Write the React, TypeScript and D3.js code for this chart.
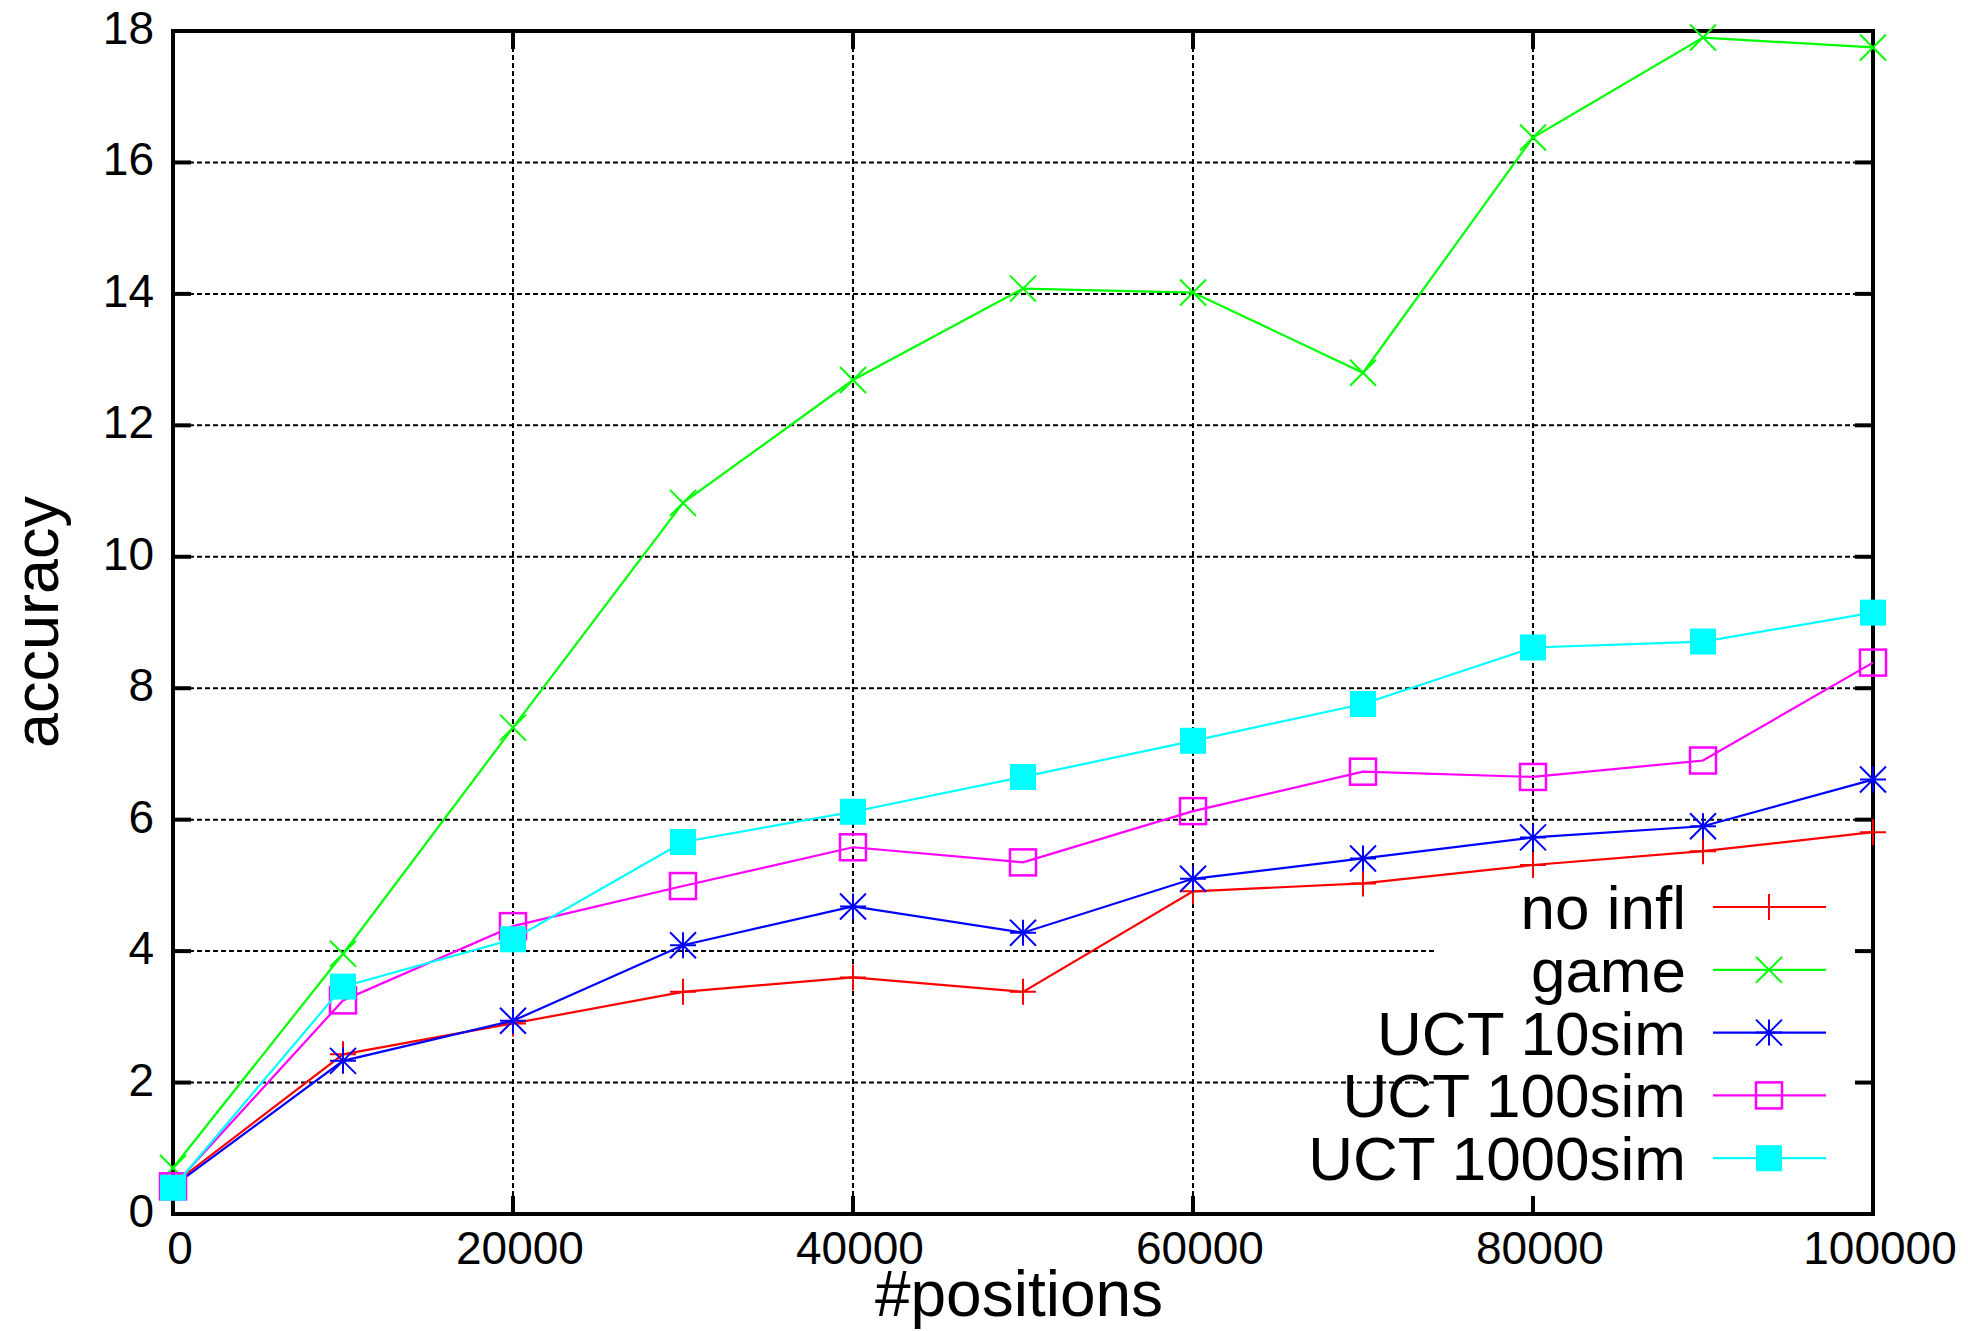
import * as d3 from "d3";

const positions = [0, 10000, 20000, 30000, 40000, 50000, 60000, 70000, 80000, 90000, 100000];
const noInfl = [0.45, 2.43, 2.9, 3.38, 3.6, 3.38, 4.91, 5.03, 5.31, 5.52, 5.81];
const game = [0.7, 3.96, 7.4, 10.82, 12.69, 14.08, 14.02, 12.8, 16.38, 17.9, 17.75];
const uct10 = [0.42, 2.33, 2.94, 4.09, 4.68, 4.28, 5.1, 5.41, 5.73, 5.9, 6.61];
const uct100 = [0.42, 3.25, 4.38, 4.99, 5.58, 5.35, 6.13, 6.73, 6.65, 6.9, 8.39];
const uct1000 = [0.4, 3.46, 4.18, 5.66, 6.12, 6.65, 7.2, 7.76, 8.62, 8.71, 9.15];

const xTicks = [0, 20000, 40000, 60000, 80000, 100000];
const yTicks = [0, 2, 4, 6, 8, 10, 12, 14, 16, 18];

const series = [
  { name: "no infl", values: noInfl, color: "#ff0000", marker: "plus" },
  { name: "game", values: game, color: "#00ff00", marker: "cross" },
  { name: "UCT 10sim", values: uct10, color: "#0000ff", marker: "star" },
  { name: "UCT 100sim", values: uct100, color: "#ff00ff", marker: "box" },
  { name: "UCT 1000sim", values: uct1000, color: "#00ffff", marker: "fbox" },
];

const W = 1968, H = 1331;
const m = { left: 173, right: 1873, top: 31, bottom: 1214 };
const FONT = "'Liberation Sans', Arial, Helvetica, sans-serif";

function Marker({ type, x, y, color }) {
  const s = 13;
  if (type === "plus")
    return <path d={`M${x - s},${y}H${x + s}M${x},${y - s}V${y + s}`} stroke={color} strokeWidth={2} fill="none" />;
  if (type === "cross")
    return <path d={`M${x - s},${y - s}L${x + s},${y + s}M${x - s},${y + s}L${x + s},${y - s}`} stroke={color} strokeWidth={2} fill="none" />;
  if (type === "star")
    return (
      <path
        d={`M${x - s},${y}H${x + s}M${x},${y - s}V${y + s}M${x - s},${y - s}L${x + s},${y + s}M${x - s},${y + s}L${x + s},${y - s}`}
        stroke={color} strokeWidth={2} fill="none" />
    );
  if (type === "box")
    return <rect x={x - s} y={y - s} width={2 * s} height={2 * s} stroke={color} strokeWidth={2.5} fill="none" />;
  return <rect x={x - s} y={y - s} width={2 * s} height={2 * s} fill={color} />;
}

export default function App() {
  const x = d3.scaleLinear().domain([0, 100000]).range([m.left, m.right]);
  const y = d3.scaleLinear().domain([0, 18]).range([m.bottom, m.top]);

  // key box area: grid is cleared there
  const keyLeft = 1436, keyTop = 875;
  const rowY = (i) => 907 + i * 62.8;

  const line = d3.line().x((d) => x(d[0])).y((d) => y(d[1]));

  return (
    <svg width={W} height={H} style={{ position: "absolute", left: 0, top: 0, background: "#fff" }}>
      {/* grid */}
      <g stroke="#000" strokeWidth={2} strokeDasharray="5,3">
        {xTicks.slice(1, -1).map((t) => (
          <line key={"gx" + t} x1={x(t)} x2={x(t)} y1={m.top} y2={x(t) > keyLeft ? keyTop : m.bottom} />
        ))}
        {yTicks.slice(1, -1).map((t) => (
          <line key={"gy" + t} x1={m.left} x2={y(t) > keyTop ? keyLeft : m.right} y1={y(t)} y2={y(t)} />
        ))}
      </g>
      {/* ticks */}
      <g stroke="#000" strokeWidth={4}>
        {xTicks.map((t) => (
          <g key={"tx" + t}>
            <line x1={x(t)} x2={x(t)} y1={m.bottom} y2={m.bottom - 18} />
            <line x1={x(t)} x2={x(t)} y1={m.top} y2={m.top + 18} />
          </g>
        ))}
        {yTicks.map((t) => (
          <g key={"ty" + t}>
            <line x1={m.left} x2={m.left + 18} y1={y(t)} y2={y(t)} />
            <line x1={m.right} x2={m.right - 18} y1={y(t)} y2={y(t)} />
          </g>
        ))}
      </g>
      <rect x={m.left} y={m.top} width={m.right - m.left} height={m.bottom - m.top} fill="none" stroke="#000" strokeWidth={4} />
      {/* tick labels */}
      <g fontFamily={FONT} fontSize={46} fill="#000">
        {xTicks.map((t) => (
          <text key={"lx" + t} x={x(t) + 7} y={1264} textAnchor="middle">{t}</text>
        ))}
        {yTicks.map((t) => (
          <text key={"ly" + t} x={154} y={y(t) + 13} textAnchor="end">{t}</text>
        ))}
      </g>
      <text fontFamily={FONT} fontSize={63} textAnchor="middle" transform={`translate(58,622) rotate(-90)`}>accuracy</text>
      <text fontFamily={FONT} fontSize={64} textAnchor="middle" x={1019} y={1316}>#positions</text>
      {/* series */}
      {series.map((s) => (
        <g key={s.name}>
          <path d={line(positions.map((p, i) => [p, s.values[i]]))} fill="none" stroke={s.color} strokeWidth={2.2} />
          {positions.map((p, i) => (
            <Marker key={p} type={s.marker} x={x(p)} y={y(s.values[i])} color={s.color} />
          ))}
        </g>
      ))}
      {/* legend */}
      {series.map((s, i) => (
        <g key={"lg" + s.name}>
          <text x={1686} y={rowY(i) + 22} textAnchor="end" fontFamily={FONT} fontSize={62}>{s.name}</text>
          <line x1={1713} x2={1826} y1={rowY(i)} y2={rowY(i)} stroke={s.color} strokeWidth={2.2} />
          <Marker type={s.marker} x={1769} y={rowY(i)} color={s.color} />
        </g>
      ))}
    </svg>
  );
}
